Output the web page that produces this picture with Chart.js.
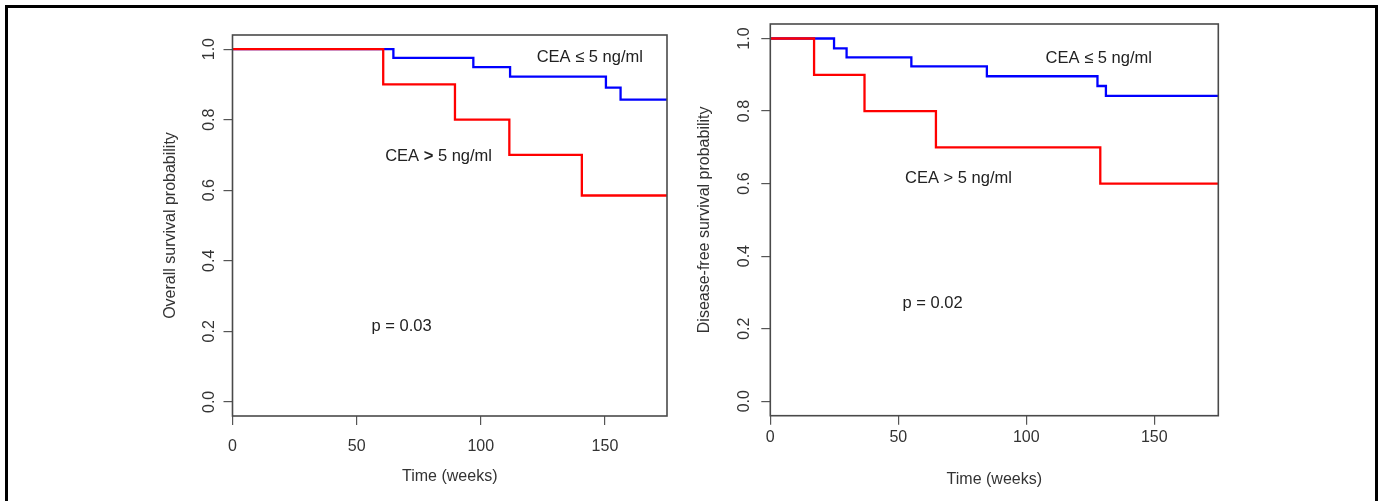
<!DOCTYPE html>
<html>
<head>
<meta charset="utf-8">
<script src="https://cdn.jsdelivr.net/npm/chart.js@4.4.1/dist/chart.umd.min.js"></script>
<style>
  body { margin: 0; background: #fff; width: 1378px; height: 501px; overflow: hidden; position: relative; }
  #frame { position: absolute; left: 5px; top: 5px; width: 1373px; height: 500px; border: 3px solid #000; border-bottom: none; box-sizing: border-box; }
  canvas { position: absolute; top: 0; }
</style>
</head>
<body>
<div id="frame"></div>
<canvas id="osChart" width="689" height="501" style="left:0"></canvas>
<canvas id="dfsChart" width="689" height="501" style="left:689px"></canvas>
<script>
// overall survival, weeks / probability
const osLowTime = [0, 64.8, 97, 111.8, 150.4, 156.3, 175];
const osLowSurv = [1, 0.975, 0.949, 0.922, 0.891, 0.857, 0.857];
const osHighTime = [0, 60.7, 89.6, 111.5, 140.7, 175];
const osHighSurv = [1, 0.9, 0.8, 0.7, 0.585, 0.585];

// disease-free survival
const dfsLowTime = [0, 24.9, 29.8, 55.1, 84.6, 127.8, 131.1, 175];
const dfsLowSurv = [1, 0.973, 0.948, 0.923, 0.896, 0.869, 0.842, 0.842];
const dfsHighTime = [0, 17.1, 36.8, 64.7, 128.9, 175];
const dfsHighSurv = [1, 0.9, 0.8, 0.7, 0.6, 0.6];

const xTicks = [0, 50, 100, 150];
const yTicks = [0, 0.2, 0.4, 0.6, 0.8, 1.0];
const yTickLabels = ["0.0", "0.2", "0.4", "0.6", "0.8", "1.0"];

Chart.defaults.font.family = "'Liberation Sans', Arial, sans-serif";
Chart.defaults.font.size = 16;
Chart.defaults.color = "#333";

function toPoints(times, surv) {
  return times.map((t, i) => ({ x: t, y: surv[i] }));
}

// box round the plot, rotated y labels and the text notes
const decorPlugin = {
  id: "decor",
  afterDatasetsDraw(chart) {
    const { ctx, chartArea: a, scales } = chart;
    const cfg = chart.options.plugins.decor;
    ctx.save();
    ctx.strokeStyle = "#4a4a4a";
    ctx.lineWidth = 1.6;
    ctx.strokeRect(a.left, a.top, a.right - a.left, a.bottom - a.top);

    ctx.fillStyle = "#333";
    ctx.font = "16px 'Liberation Sans', Arial, sans-serif";
    ctx.textAlign = "center";
    ctx.textBaseline = "middle";
    yTicks.forEach((v, i) => {
      const y = scales.y.getPixelForValue(v);
      ctx.save();
      ctx.translate(a.left - cfg.yLabelGap, y);
      ctx.rotate(-Math.PI / 2);
      ctx.fillText(yTickLabels[i], 0, 0);
      ctx.restore();
    });

    ctx.textAlign = "left";
    ctx.fillStyle = "#222";
    cfg.notes.forEach(n => {
      const fonts = n.parts.map(p => (p.bold ? "bold " : "") + "16.5px 'Liberation Sans', Arial, sans-serif");
      let total = 0;
      n.parts.forEach((p, i) => { ctx.font = fonts[i]; total += ctx.measureText(p.t).width; });
      let x = scales.x.getPixelForValue(n.x) - total / 2;
      const y = scales.y.getPixelForValue(n.y);
      n.parts.forEach((p, i) => {
        ctx.font = fonts[i];
        ctx.fillText(p.t, x, y);
        x += ctx.measureText(p.t).width;
      });
    });
    ctx.restore();
  }
};

function makePanel(id, p) {
  new Chart(document.getElementById(id), {
    type: "line",
    data: {
      datasets: [
        { data: toPoints(p.highTime, p.highSurv), borderColor: "#ff0000" },
        { data: toPoints(p.lowTime, p.lowSurv), borderColor: "#0000ff" }
      ]
    },
    options: {
      responsive: false,
      animation: false,
      layout: { padding: p.padding },
      elements: {
        line: { borderWidth: 2.3, stepped: true, tension: 0 },
        point: { radius: 0 }
      },
      plugins: {
        legend: { display: false },
        tooltip: { enabled: false },
        decor: { notes: p.notes, yLabelGap: p.yLabelGap }
      },
      scales: {
        x: {
          type: "linear",
          min: 0,
          max: 175,
          afterBuildTicks: s => { s.ticks = xTicks.map(v => ({ value: v })); },
          afterFit: s => { s.height = p.xHeight; },
          ticks: { padding: p.xTickPad, color: "#333" },
          grid: { drawOnChartArea: false, tickLength: 9, color: "#555", lineWidth: 1.2 },
          border: { display: false },
          title: { display: true, text: "Time (weeks)", color: "#333", padding: { top: 0, bottom: p.xTitlePad } }
        },
        y: {
          type: "linear",
          min: -0.04,
          max: 1.04,
          afterBuildTicks: s => { s.ticks = yTicks.map(v => ({ value: v })); },
          afterFit: s => { s.width = p.yWidth; },
          ticks: { display: false },
          grid: { drawOnChartArea: false, tickLength: 9, color: "#555", lineWidth: 1.2 },
          border: { display: false },
          title: { display: true, text: p.yTitle, color: "#333", padding: { top: p.yTitlePad, bottom: 0 } }
        }
      }
    },
    plugins: [decorPlugin]
  });
}

makePanel("osChart", {
  lowTime: osLowTime, lowSurv: osLowSurv, highTime: osHighTime, highSurv: osHighSurv,
  yTitle: "Overall survival probability",
  padding: { left: 0, top: 35, right: 22, bottom: 0 },
  yWidth: 232.5, xHeight: 85,
  xTickPad: 12.4, xTitlePad: 14.4, yTitlePad: 161, yLabelGap: 22.5,
  notes: [
    { x: 143.9, y: 0.976, parts: [{ t: "CEA \u2264 5 ng/ml" }] },
    { x: 83, y: 0.696, parts: [{ t: "CEA " }, { t: ">", bold: true }, { t: " 5 ng/ml" }] },
    { x: 68.1, y: 0.214, parts: [{ t: "p = 0.03" }] }
  ]
});

makePanel("dfsChart", {
  lowTime: dfsLowTime, lowSurv: dfsLowSurv, highTime: dfsHighTime, highSurv: dfsHighSurv,
  yTitle: "Disease-free survival probability",
  padding: { left: 0, top: 24, right: 159.7, bottom: 0 },
  yWidth: 81.3, xHeight: 85.3,
  xTickPad: 3.7, xTitlePad: 12, yTitlePad: 6.4, yLabelGap: 26,
  notes: [
    { x: 128.3, y: 0.946, parts: [{ t: "CEA \u2264 5 ng/ml" }] },
    { x: 73.5, y: 0.614, parts: [{ t: "CEA > 5 ng/ml" }] },
    { x: 63.4, y: 0.269, parts: [{ t: "p = 0.02" }] }
  ]
});
</script>
</body>
</html>
